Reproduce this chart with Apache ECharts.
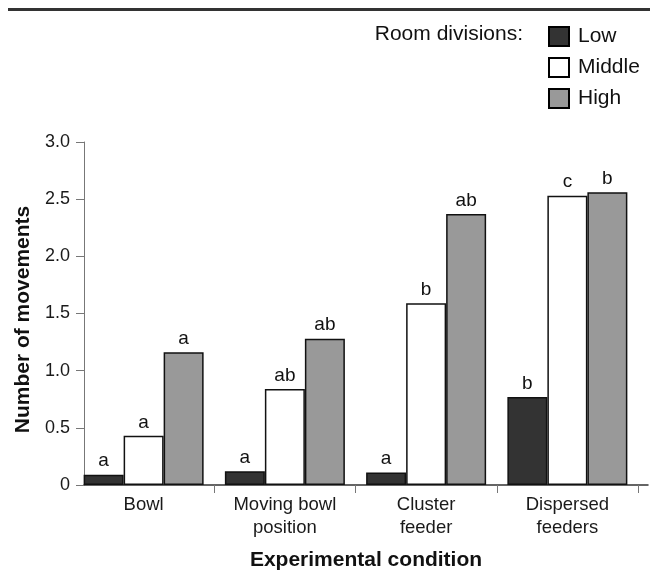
<!DOCTYPE html>
<html>
<head>
<meta charset="utf-8">
<script src="https://cdn.jsdelivr.net/npm/echarts@6/dist/echarts.min.js"></script>
<style>
  html, body { margin: 0; padding: 0; background: #fff; }
  #main { width: 650px; height: 571px; }
</style>
</head>
<body>
<div id="main"></div>
<script>
// data
var categories = ['Bowl', 'Moving bowl\nposition', 'Cluster\nfeeder', 'Dispersed\nfeeders'];
var seriesNames = ['Low', 'Middle', 'High'];
var lowVals = [0.09, 0.12, 0.11, 0.77];
var midVals = [0.43, 0.84, 1.59, 2.53];
var highVals = [1.16, 1.28, 2.37, 2.56];
var lowLetters = ['a', 'a', 'a', 'b'];
var midLetters = ['a', 'ab', 'b', 'c'];
var highLetters = ['a', 'ab', 'ab', 'b'];
var yMin = 0, yMax = 3, yStep = 0.5;

var font = 'Liberation Sans, Arial, Helvetica, sans-serif';
var myChart = echarts.init(document.getElementById('main'));

function barSeries(name, vals, letters, color) {
    return {
        name: name,
        type: 'bar',
        xAxisIndex: 0,
        yAxisIndex: 0,
        barWidth: 40,
        barGap: '0%',
        data: vals,
        itemStyle: { color: color, borderColor: '#111', borderWidth: 1.5 },
        label: {
            show: true,
            position: 'top',
            distance: 4,
            fontFamily: font,
            fontSize: 19,
            color: '#111',
            formatter: function (p) { return letters[p.dataIndex]; }
        }
    };
}

var option = {
    backgroundColor: '#fff',
    animation: false,
    textStyle: { fontFamily: font },
    graphic: [
        { type: 'rect', shape: { x: 8, y: 8, width: 642, height: 3 }, style: { fill: '#333' } },
        {
            type: 'text', right: 127, top: 24,
            style: { text: 'Room divisions:', font: '21px ' + font, fill: '#111' }
        }
    ],
    legend: {
        orient: 'vertical',
        left: 543,
        top: 21,
        itemWidth: 20,
        itemHeight: 19,
        itemGap: 10,
        icon: 'rect',
        data: seriesNames,
        itemStyle: { borderColor: '#000', borderWidth: 2 },
        textStyle: { fontFamily: font, fontSize: 21, color: '#111', padding: [0, 0, 0, 4] }
    },
    grid: [
        { left: 73, right: 12, top: 142, bottom: 86, outerBoundsMode: 'none' },
        { left: 84, right: 2, top: 142, bottom: 86, outerBoundsMode: 'none' }
    ],
    xAxis: [
        {
            type: 'category',
            gridIndex: 0,
            data: categories,
            axisLine: { show: false },
            axisTick: {
                show: true, length: 8,
                interval: function (i) { return i > 0; },
                lineStyle: { color: '#777' }
            },
            axisLabel: {
                interval: 0, margin: 8,
                fontFamily: font, fontSize: 18.5, lineHeight: 23, color: '#1a1a1a'
            }
        },
        {
            type: 'value',
            gridIndex: 1,
            min: 0, max: 1,
            axisLine: { show: true, lineStyle: { color: '#333', width: 1.5 } },
            axisTick: { show: false },
            axisLabel: { show: false },
            splitLine: { show: false },
            name: 'Experimental condition',
            nameLocation: 'middle',
            nameGap: 65,
            nameTextStyle: { fontFamily: font, fontSize: 21, fontWeight: 'bold', color: '#111' }
        }
    ],
    yAxis: [
        {
            type: 'value',
            gridIndex: 0,
            min: yMin, max: yMax, interval: yStep,
            show: false
        },
        {
            type: 'value',
            gridIndex: 1,
            min: yMin, max: yMax, interval: yStep,
            axisLine: { show: true, lineStyle: { color: '#777', width: 1 } },
            axisTick: { show: true, length: 8, lineStyle: { color: '#777' } },
            splitLine: { show: false },
            axisLabel: {
                margin: 14,
                fontFamily: font, fontSize: 18, color: '#1a1a1a',
                formatter: function (v) { return v === 0 ? '0' : v.toFixed(1); }
            },
            name: 'Number of movements',
            nameLocation: 'middle',
            nameGap: 50,
            nameTextStyle: {
                fontFamily: font, fontSize: 21, fontWeight: 'bold', color: '#111',
                padding: [0, 12, 0, 0]
            }
        }
    ],
    series: [
        barSeries(seriesNames[0], lowVals, lowLetters, '#333333'),
        barSeries(seriesNames[1], midVals, midLetters, '#ffffff'),
        barSeries(seriesNames[2], highVals, highLetters, '#999999')
    ]
};

myChart.setOption(option);
</script>
</body>
</html>
